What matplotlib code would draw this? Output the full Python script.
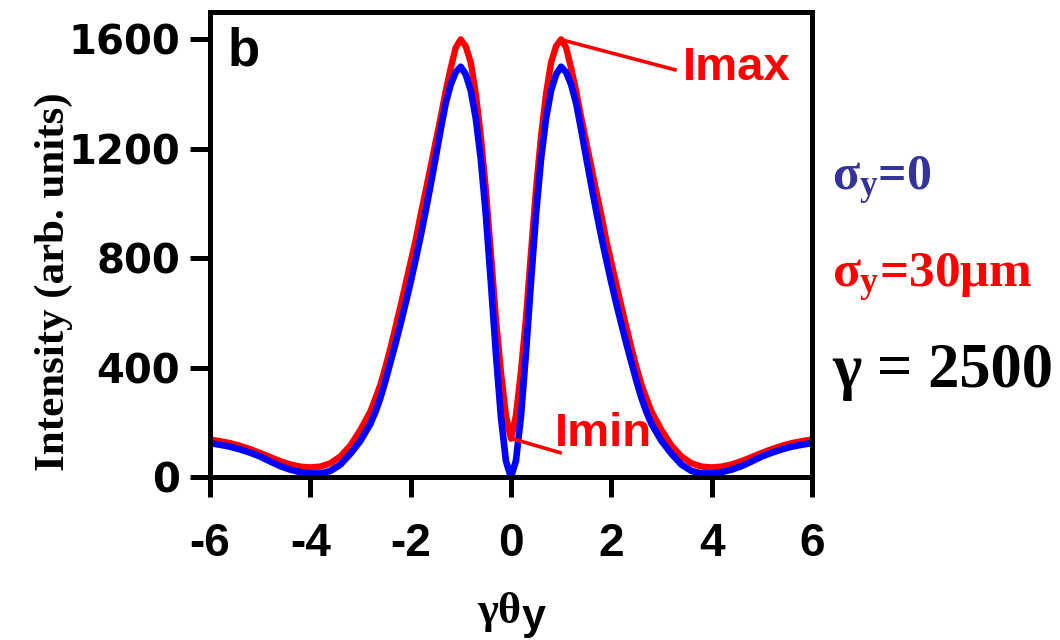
import matplotlib
matplotlib.use("Agg")
import matplotlib.pyplot as plt

# angle axis (gamma*theta_y), denser where the curves bend fast
gamma_theta = [-6.0, -5.8, -5.6, -5.4, -5.2, -5.0, -4.8, -4.6, -4.4, -4.2, -4.0,
               -3.8, -3.6, -3.4, -3.2, -3.0, -2.8, -2.7, -2.6, -2.5, -2.4,
               -2.3, -2.2, -2.1, -2.0, -1.9, -1.8, -1.7, -1.6, -1.5, -1.4,
               -1.3, -1.2, -1.1, -1.0, -0.9, -0.8, -0.7, -0.6, -0.5, -0.4,
               -0.3, -0.2, -0.1, 0.0, 0.1, 0.2, 0.3, 0.4, 0.5, 0.6,
               0.7, 0.8, 0.9, 1.0, 1.1, 1.2, 1.3, 1.4, 1.5, 1.6,
               1.7, 1.8, 1.9, 2.0, 2.1, 2.2, 2.3, 2.4, 2.5, 2.6,
               2.7, 2.8, 3.0, 3.2, 3.4, 3.6, 3.8, 4.0, 4.2, 4.4,
               4.6, 4.8, 5.0, 5.2, 5.4, 5.6, 5.8, 6.0]

# sigma_y = 0
intensity_0 = [124, 118, 111, 101, 89, 75, 57, 40, 27, 18, 13,
               13, 22, 45, 85, 132, 195, 238, 290, 352, 420,
               488, 560, 634, 712, 794, 880, 972, 1068, 1168, 1270,
               1366, 1435, 1480, 1500, 1472, 1413, 1311, 1162, 960, 713,
               454, 222, 59, 0, 59, 222, 454, 713, 960, 1162,
               1311, 1413, 1472, 1500, 1480, 1435, 1366, 1270, 1168, 1068,
               972, 880, 794, 712, 634, 560, 488, 420, 352, 290,
               238, 195, 132, 85, 45, 22, 13, 13, 18, 27,
               40, 57, 75, 89, 101, 111, 118, 124]

# sigma_y = 30 um
intensity_30 = [137, 131, 124, 114, 102, 88, 73, 58, 46, 38, 35,
                38, 50, 75, 115, 172, 240, 288, 338, 402, 472,
                548, 625, 705, 785, 865, 958, 1045, 1135, 1225, 1315,
                1410, 1495, 1570, 1600, 1575, 1515, 1400, 1245, 1050, 820,
                580, 385, 225, 140, 225, 385, 580, 820, 1050, 1245,
                1400, 1515, 1575, 1600, 1570, 1495, 1410, 1315, 1225, 1135,
                1045, 958, 865, 785, 705, 625, 548, 472, 402, 338,
                288, 240, 172, 115, 75, 50, 38, 35, 38, 46,
                58, 73, 88, 102, 114, 124, 131, 137]

x_ticks = [-6, -4, -2, 0, 2, 4, 6]
y_ticks = [0, 400, 800, 1200, 1600]

plt.rcParams['mathtext.fontset'] = 'custom'
plt.rcParams['mathtext.rm'] = 'Liberation Serif:bold'
plt.rcParams['mathtext.it'] = 'Liberation Serif:bold'
plt.rcParams['mathtext.bf'] = 'Liberation Serif:bold'

fig = plt.figure(figsize=(10.6, 6.4), dpi=100)
ax = fig.add_axes([0.198, 0.2547, 0.568, 0.7265])

ax.plot(gamma_theta, intensity_30, color='#ff0000', lw=4.6,
        solid_joinstyle='round', solid_capstyle='round')
ax.plot(gamma_theta, intensity_0, color='#0000ff', lw=4.8,
        solid_joinstyle='round', solid_capstyle='round')

ax.set_xlim(-6, 6)
ax.set_ylim(0, 1700)
ax.set_xticks(x_ticks)
ax.set_xticklabels([str(t) for t in x_ticks])
ax.set_yticks(y_ticks)
ax.set_yticklabels([str(t) for t in y_ticks])

for s in ax.spines.values():
    s.set_linewidth(3.6)
ax.tick_params(direction='out', length=14.5, width=3.6)
ax.tick_params(axis='y', pad=7)
ax.tick_params(axis='x', pad=18)
for lab in ax.get_yticklabels():
    lab.set_fontfamily('DejaVu Sans')
    lab.set_fontweight('bold')
    lab.set_fontsize(29)
for lab in ax.get_xticklabels():
    lab.set_fontfamily('Liberation Sans')
    lab.set_fontweight('bold')
    lab.set_fontsize(33)

ax.set_ylabel('Intensity (arb. units)', fontfamily='Liberation Serif',
              fontweight='bold', fontsize=31)
ax.yaxis.set_label_coords(-0.228, 0.42)

# x label: gamma theta with sans subscript y
fig.text(0.450, 0.027, 'γθ', fontfamily='Liberation Serif', fontweight='bold',
         fontsize=32, va='baseline', ha='left')
fig.text(0.492, 0.017, 'y', fontfamily='Liberation Sans', fontweight='bold',
         fontsize=31, va='baseline', ha='left')

# panel letter
ax.text(0.03, 0.885, 'b', transform=ax.transAxes, fontfamily='Liberation Sans',
        fontweight='bold', fontsize=38, va='baseline')

# I_max / I_min labels
ax.plot([0.98, 3.27], [1600, 1489], color='#ff0000', lw=2.6)
ax.text(3.43, 1450, 'Imax', color='#ff0000', fontfamily='Liberation Sans',
        fontweight='bold', fontsize=34, va='baseline')
ax.plot([0.01, 0.98], [141, 89], color='#ff0000', lw=2.6)
ax.text(0.88, 113, 'Imin', color='#ff0000', fontfamily='Liberation Sans',
        fontweight='bold', fontsize=34, va='baseline')

# right-hand legend text
fig.text(0.785, 0.703, r'$\sigma_y$=0', color='#333399',
         fontfamily='Liberation Serif', fontweight='bold', fontsize=36, va='baseline')
fig.text(0.785, 0.552, r'$\sigma_y$=30μm', color='#ff0000',
         fontfamily='Liberation Serif', fontweight='bold', fontsize=37, va='baseline')
fig.text(0.785, 0.395, 'γ = 2500', color='black',
         fontfamily='Liberation Serif', fontweight='bold', fontsize=45, va='baseline')

fig.savefig('out.png', dpi=100)
